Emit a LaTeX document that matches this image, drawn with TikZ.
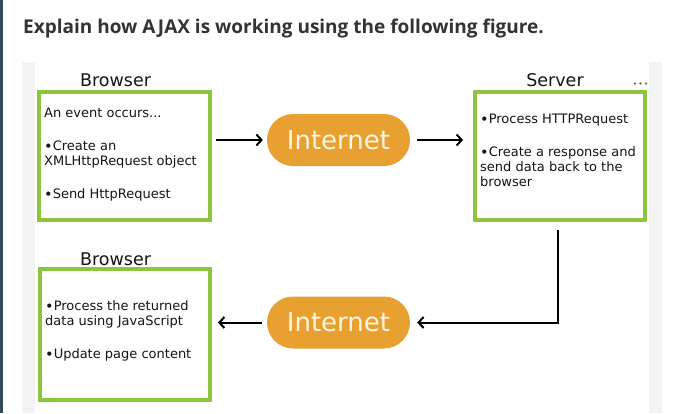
\documentclass[tikz,border=0pt]{standalone}
\usepackage{fontspec}
\setmainfont{DejaVu Sans}
\newfontfamily\titlefont{Open Sans}
\usetikzlibrary{arrows.meta}
\definecolor{boxgreen}{HTML}{8CC63E}
\definecolor{pillorange}{HTML}{E8A030}
\definecolor{pilltext}{HTML}{FFF6E2}
\definecolor{textdark}{HTML}{151515}
\definecolor{titlecol}{HTML}{333333}
\definecolor{stripgrey}{HTML}{F3F3F5}
\definecolor{edgecol}{HTML}{2D4B5B}
\newcommand{\bul}{\raisebox{-1.6pt}{\fontsize{14.5}{15}\selectfont •}}
\tikzset{
  greenbox/.style={draw=boxgreen, line width=4pt, fill=white, inner sep=0pt},
  pill/.style={fill=pillorange, rounded corners=26pt, minimum width=143pt, minimum height=52pt,
    text=pilltext, inner sep=0pt, font=\fontsize{26}{30}\selectfont},
  arr/.style={line width=2pt, draw=black, -{Straight Barb[length=5pt,width=11pt,line width=2pt]}},
  bodytxt/.style={anchor=base west, inner sep=0pt, text=textdark, font=\fontsize{13}{15}\selectfont},
  headtxt/.style={anchor=base, inner sep=0pt, text=textdark, font=\fontsize{17.5}{20}\selectfont},
}
\begin{document}
\begin{tikzpicture}[x=1pt,y=-1pt]
\useasboundingbox (0,0) rectangle (677,413);
\fill[white] (0,0) rectangle (677,413);
\fill[edgecol] (0,0) rectangle (2.5,413);
\fill[stripgrey] (22,62) rectangle (35,413);
\fill[stripgrey] (649,62) rectangle (662,413);
\node[anchor=base west, inner sep=0pt, text=titlecol, font=\titlefont\bfseries\fontsize{19}{22}\selectfont] (title) at (23,33.3) {Explain how AJAX is working using the following figure.};

% boxes
\node[greenbox, minimum width=171pt, minimum height=128pt] (box1) at (124.5,156) {};
\node[greenbox, minimum width=170pt, minimum height=128pt] (box2) at (560,156) {};
\node[greenbox, minimum width=170pt, minimum height=131pt] (box3) at (125,334.5) {};

% headings
\node[headtxt] (h1) at (115.5,86) {Browser};
\node[headtxt] (h2) at (555,86) {Server};
\node[headtxt] (h3) at (115.5,265) {Browser};
\foreach \i/\xx in {1/635,2/640.5,3/646}{
  \fill[gray!90!black] (\xx,83.5) circle (1.4pt);
}

% box texts
\node[bodytxt] (t11) at (44,117) {An event occurs...};
\node[bodytxt] (t12) at (44,150) {\bul Create an};
\node[bodytxt] (t13) at (44,165) {XMLHttpRequest object};
\node[bodytxt] (t14) at (44,198) {\bul Send HttpRequest};

\node[bodytxt] (t21) at (480,123) {\bul Process HTTPRequest};
\node[bodytxt] (t22) at (480,156) {\bul Create a response and};
\node[bodytxt] (t23) at (480,171.5) {send data back to the};
\node[bodytxt] (t24) at (480,186.5) {browser};

\node[bodytxt] (t31) at (45,310) {\bul Process the returned};
\node[bodytxt] (t32) at (45,325.5) {data using JavaScript};
\node[bodytxt] (t33) at (45,358) {\bul Update page content};

% internet pills
\node[pill] (net1) at (338.5,140) {Internet};
\node[pill] (net2) at (338.5,322.5) {Internet};

% connectors
\draw[arr, shorten <=4pt, shorten >=4pt] (box1.east |- net1.west) -- (net1.west);
\draw[arr, shorten <=7pt, shorten >=10pt] (net1.east) -- (box2.west |- net1.east);
\coordinate (c1) at ([xshift=-2pt, yshift=-8pt]box2.south);
\draw[arr, shorten >=7pt] (c1) |- (net2.east);
\draw[arr, shorten <=5pt, shorten >=6pt] (net2.west) -- (box3.east |- net2.west);
\end{tikzpicture}
\end{document}
